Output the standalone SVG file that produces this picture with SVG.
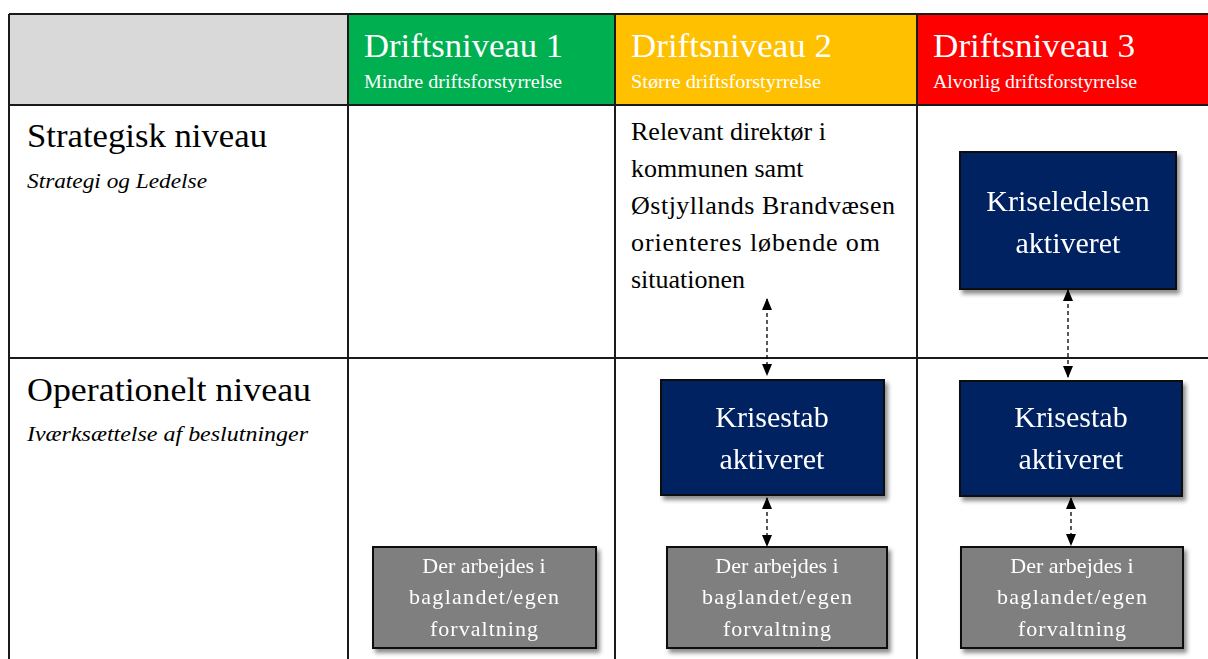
<svg xmlns="http://www.w3.org/2000/svg" width="1208" height="659" viewBox="0 0 1208 659">
<style>
.grid{stroke:#1a1a1a;stroke-width:2;fill:none}
.hd{font-family:"Liberation Serif",serif;fill:#fff}
.h1{font-size:34px}
.h2{font-size:19px}
.lbl{font-family:"Liberation Serif",serif;fill:#000}
.navy{fill:#002060;stroke:#0d0d0d;stroke-width:2}
.gray{fill:#7f7f7f;stroke:#0d0d0d;stroke-width:2}
.nt{font-family:"Liberation Serif",serif;fill:#fff;font-size:30px;text-anchor:middle}
.gt{font-family:"Liberation Serif",serif;fill:#fff;font-size:22px;text-anchor:middle}
.conn{stroke:#000;stroke-width:1.3;stroke-dasharray:4 3;fill:none}
</style>
<defs>
<marker id="ah" viewBox="0 0 12 10" refX="11" refY="5" markerWidth="12" markerHeight="10" markerUnits="userSpaceOnUse" orient="auto-start-reverse">
<path d="M0,0 L12,5 L0,10 z" fill="#000"/>
</marker>
<filter id="sh" x="-10%" y="-10%" width="130%" height="130%">
<feDropShadow dx="3" dy="4" stdDeviation="2" flood-color="#000" flood-opacity="0.45"/>
</filter>
</defs>
<rect width="1208" height="659" fill="#fff"/>
<g id="header">
<rect x="9" y="14" width="339" height="91" fill="#d9d9d9"/>
<rect x="348" y="14" width="267" height="91" fill="#00b050"/>
<rect x="615" y="14" width="302" height="91" fill="#ffc000"/>
<rect x="917" y="14" width="300" height="91" fill="#ff0000"/>
<text class="hd h1" x="364" y="57" textLength="199" lengthAdjust="spacingAndGlyphs">Driftsniveau 1</text>
<text class="hd h2" x="364" y="88" textLength="198" lengthAdjust="spacingAndGlyphs">Mindre driftsforstyrrelse</text>
<text class="hd h1" x="631" y="57" textLength="201" lengthAdjust="spacingAndGlyphs">Driftsniveau 2</text>
<text class="hd h2" x="631" y="88" textLength="190" lengthAdjust="spacingAndGlyphs">Større driftsforstyrrelse</text>
<text class="hd h1" x="933" y="57" textLength="202" lengthAdjust="spacingAndGlyphs">Driftsniveau 3</text>
<text class="hd h2" x="933" y="88" textLength="204" lengthAdjust="spacingAndGlyphs">Alvorlig driftsforstyrrelse</text>
</g>
<g id="grid">
<path class="grid" d="M9,14 H1210 M9,105 H1210 M9,358 H1210 M9,14 V661 M348,14 V661 M615,14 V661 M917,14 V661"/>
</g>
<g id="row-labels">
<text class="lbl" x="27" y="147" font-size="34" textLength="240" lengthAdjust="spacingAndGlyphs">Strategisk niveau</text>
<text class="lbl" x="27" y="188" font-size="22" font-style="italic" textLength="180" lengthAdjust="spacingAndGlyphs">Strategi og Ledelse</text>
<text class="lbl" x="27" y="401" font-size="34" textLength="284" lengthAdjust="spacingAndGlyphs">Operationelt niveau</text>
<text class="lbl" x="27" y="441" font-size="22" font-style="italic" textLength="281" lengthAdjust="spacingAndGlyphs">Iværksættelse af beslutninger</text>
</g>
<g id="orientering">
<text class="lbl" font-size="26" x="631" y="140">Relevant direktør i</text>
<text class="lbl" font-size="26" x="631" y="177">kommunen samt</text>
<text class="lbl" font-size="26" x="631" y="214" textLength="264">Østjyllands Brandvæsen</text>
<text class="lbl" font-size="26" x="631" y="251" textLength="249">orienteres løbende om</text>
<text class="lbl" font-size="26" x="631" y="288">situationen</text>
</g>
<g id="kriseledelsen" filter="url(#sh)">
<rect class="navy" x="960" y="152" width="216" height="137"/>
<text class="nt" x="1068" y="211">Kriseledelsen</text>
<text class="nt" x="1068" y="253">aktiveret</text>
</g>
<g id="krisestab2" filter="url(#sh)">
<rect class="navy" x="661" y="380" width="223" height="115"/>
<text class="nt" x="772" y="427">Krisestab</text>
<text class="nt" x="772" y="469">aktiveret</text>
</g>
<g id="krisestab3" filter="url(#sh)">
<rect class="navy" x="960" y="381" width="222" height="115"/>
<text class="nt" x="1071" y="427">Krisestab</text>
<text class="nt" x="1071" y="469">aktiveret</text>
</g>
<g id="bagland1" filter="url(#sh)">
<rect class="gray" x="373" y="547" width="223" height="101"/>
<text class="gt" x="484" y="573">Der arbejdes i</text>
<text class="gt" x="484" y="604" textLength="150">baglandet/egen</text>
<text class="gt" x="484" y="636" textLength="108">forvaltning</text>
</g>
<g id="bagland2" filter="url(#sh)">
<rect class="gray" x="667" y="547" width="220" height="101"/>
<text class="gt" x="777" y="573">Der arbejdes i</text>
<text class="gt" x="777" y="604" textLength="150">baglandet/egen</text>
<text class="gt" x="777" y="636" textLength="108">forvaltning</text>
</g>
<g id="bagland3" filter="url(#sh)">
<rect class="gray" x="961" y="547" width="222" height="101"/>
<text class="gt" x="1072" y="573">Der arbejdes i</text>
<text class="gt" x="1072" y="604" textLength="150">baglandet/egen</text>
<text class="gt" x="1072" y="636" textLength="108">forvaltning</text>
</g>
<g id="connectors">
<line class="conn" x1="767" y1="299" x2="767" y2="375" marker-start="url(#ah)" marker-end="url(#ah)"/>
<line class="conn" x1="1068" y1="290" x2="1068" y2="377" marker-start="url(#ah)" marker-end="url(#ah)"/>
<line class="conn" x1="767" y1="498" x2="767" y2="546" marker-start="url(#ah)" marker-end="url(#ah)"/>
<line class="conn" x1="1071" y1="498" x2="1071" y2="545" marker-start="url(#ah)" marker-end="url(#ah)"/>
</g>
</svg>
